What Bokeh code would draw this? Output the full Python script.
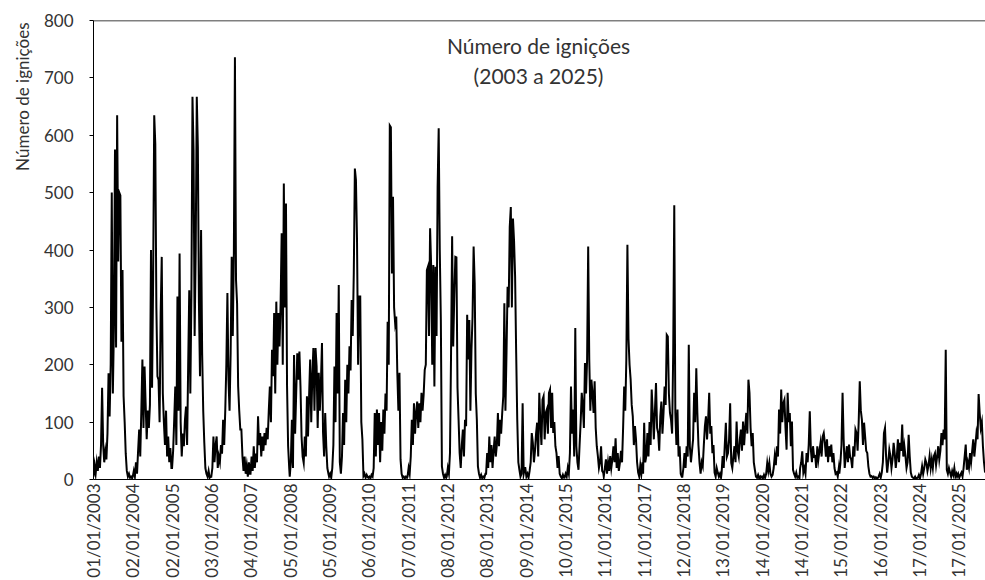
import math
from datetime import date

from bokeh.plotting import figure
from bokeh.models import Range1d, FixedTicker, Span, Title, Label
from bokeh.embed import file_html
from bokeh.resources import INLINE

# ---------------- data (one value every 10 days of each year) -------------
START = date(2003, 1, 1)
STEP_DAYS = 10
END = date(2025, 9, 22)

v2003 = [5, 25, 10, 30, 15, 40, 20, 60, 160, 60, 30, 50, 35, 80, 185, 110, 200, 500, 150, 265, 575, 230, 635, 380, 500, 495, 240, 365, 145, 100, 45, 15, 5, 10, 3, 5, 2]
v2004 = [5, 15, 5, 30, 10, 50, 87, 40, 120, 209, 90, 197, 133, 70, 120, 90, 130, 400, 160, 350, 635, 585, 300, 180, 174, 100, 290, 388, 150, 100, 60, 120, 40, 75, 30, 55, 20]
v2005 = [20, 50, 104, 162, 60, 319, 120, 394, 100, 40, 80, 58, 104, 127, 60, 200, 330, 150, 320, 667, 574, 250, 400, 667, 580, 307, 180, 435, 220, 120, 64, 20, 10, 5, 15, 3, 5]
v2006 = [5, 20, 75, 30, 60, 75, 20, 40, 30, 60, 45, 104, 60, 120, 200, 325, 174, 120, 220, 388, 250, 394, 736, 348, 307, 162, 120, 87, 87, 40, 15, 40, 10, 25, 5, 30, 10]
v2007 = [10, 40, 15, 58, 20, 45, 30, 110, 60, 81, 40, 75, 50, 81, 60, 90, 70, 120, 162, 100, 226, 180, 290, 150, 310, 200, 290, 232, 307, 429, 200, 516, 300, 481, 162, 58, 20]
v2008 = [5, 30, 104, 20, 217, 80, 150, 220, 174, 223, 162, 75, 40, 29, 75, 40, 145, 75, 145, 209, 100, 180, 229, 120, 229, 197, 90, 186, 120, 170, 238, 81, 40, 116, 58, 20, 10]
v2009 = [5, 10, 3, 20, 60, 197, 100, 290, 150, 339, 30, 10, 40, 116, 60, 174, 100, 200, 150, 232, 190, 313, 250, 360, 542, 522, 417, 200, 319, 319, 100, 70, 6, 10, 3, 8, 4]
v2010 = [3, 5, 2, 8, 5, 20, 116, 40, 122, 60, 116, 30, 100, 50, 122, 80, 150, 120, 275, 200, 617, 614, 359, 493, 300, 272, 284, 186, 120, 186, 35, 10, 3, 5, 2, 5, 3]
v2011 = [5, 20, 10, 40, 104, 60, 133, 80, 116, 136, 90, 133, 100, 151, 120, 148, 191, 200, 365, 371, 250, 438, 371, 200, 374, 162, 371, 250, 510, 612, 400, 278, 23, 10, 3, 8, 3]
v2012 = [5, 20, 10, 46, 220, 424, 232, 319, 388, 387, 160, 104, 46, 20, 60, 87, 40, 104, 93, 287, 209, 278, 120, 226, 284, 406, 342, 150, 104, 23, 10, 3, 8, 2, 5, 3, 10]
v2013 = [10, 46, 20, 75, 30, 60, 20, 50, 75, 40, 60, 116, 58, 104, 80, 116, 145, 307, 120, 220, 336, 300, 440, 475, 300, 455, 417, 354, 220, 104, 30, 17, 5, 10, 133, 10, 20]
v2014 = [20, 5, 10, 3, 15, 30, 81, 64, 30, 50, 80, 99, 40, 151, 100, 60, 139, 145, 70, 116, 122, 80, 151, 157, 90, 151, 81, 100, 58, 46, 20, 41, 10, 5, 2, 8, 3]
v2015 = [3, 10, 5, 20, 10, 46, 162, 80, 122, 40, 264, 58, 30, 17, 60, 100, 151, 128, 90, 203, 150, 209, 406, 209, 120, 174, 150, 116, 171, 90, 58, 41, 20, 30, 58, 15, 12]
v2016 = [5, 20, 35, 10, 30, 15, 41, 20, 35, 58, 30, 72, 20, 46, 15, 29, 50, 30, 90, 162, 120, 209, 409, 246, 200, 174, 130, 110, 60, 93, 70, 30, 12, 5, 25, 10, 30]
v2017 = [10, 99, 30, 41, 81, 40, 100, 60, 157, 116, 70, 120, 168, 90, 81, 50, 110, 136, 80, 116, 162, 130, 252, 249, 150, 116, 104, 80, 220, 478, 116, 60, 122, 40, 58, 10, 5]
v2018 = [5, 20, 46, 20, 58, 40, 235, 58, 30, 50, 70, 151, 100, 194, 116, 60, 29, 10, 30, 23, 60, 93, 110, 70, 104, 151, 80, 93, 46, 60, 12, 5, 20, 12, 5, 10, 3]
v2019 = [10, 41, 20, 60, 99, 40, 46, 70, 133, 29, 20, 40, 58, 30, 101, 50, 40, 70, 87, 50, 101, 60, 90, 116, 80, 174, 151, 90, 58, 81, 30, 17, 5, 3, 8, 2, 5]
v2020 = [3, 5, 2, 8, 3, 10, 29, 15, 29, 10, 5, 8, 20, 41, 25, 58, 40, 122, 80, 157, 100, 133, 139, 90, 52, 151, 100, 116, 58, 101, 17, 10, 5, 12, 3, 5, 2]
v2021 = [20, 30, 49, 12, 20, 10, 46, 30, 60, 119, 52, 30, 58, 40, 41, 20, 58, 35, 50, 64, 40, 75, 81, 64, 40, 70, 30, 58, 40, 61, 30, 46, 20, 10, 12, 5, 20]
v2022 = [10, 29, 60, 151, 70, 20, 40, 58, 30, 61, 40, 35, 20, 58, 40, 87, 81, 50, 100, 171, 120, 104, 60, 99, 75, 50, 46, 23, 10, 5, 6, 3, 5, 2, 4, 2, 3]
v2023 = [5, 10, 3, 12, 30, 81, 90, 40, 12, 30, 52, 41, 20, 35, 64, 46, 20, 40, 70, 30, 64, 50, 96, 40, 58, 41, 20, 30, 78, 40, 12, 5, 3, 2, 5, 1, 3]
v2024 = [3, 8, 2, 10, 23, 10, 20, 35, 29, 15, 25, 41, 20, 35, 20, 41, 46, 25, 40, 58, 35, 50, 81, 60, 87, 70, 226, 17, 10, 20, 12, 5, 15, 8, 20, 5, 10]
v2025 = [5, 10, 3, 8, 12, 5, 20, 40, 61, 17, 30, 20, 46, 30, 50, 70, 40, 60, 81, 70, 149, 116, 90, 100, 58, 30, 12]

years = list(range(2003, 2026))
series = [v2003, v2004, v2005, v2006, v2007, v2008, v2009, v2010, v2011, v2012, v2013, v2014,
          v2015, v2016, v2017, v2018, v2019, v2020, v2021, v2022, v2023, v2024, v2025]

tick_labels = ["01/01/2003", "02/01/2004", "02/01/2005", "03/01/2006", "04/01/2007", "05/01/2008",
               "05/01/2009", "06/01/2010", "07/01/2011", "08/01/2012", "08/01/2013", "09/01/2014",
               "10/01/2015", "11/01/2016", "11/01/2017", "12/01/2018", "13/01/2019", "14/01/2020",
               "14/01/2021", "15/01/2022", "16/01/2023", "17/01/2024", "17/01/2025"]
TICK_EVERY = 366  # days between axis labels
y_ticks = [0, 100, 200, 300, 400, 500, 600, 700, 800]

title_lines = "Número de ignições\n(2003 a 2025)"
y_title = "Número de ignições"

# ---------------- build series (x = days since 01/01/2003) ----------------
xs, ys = [], []
for yr, vals in zip(years, series):
    off = (date(yr, 1, 1) - START).days
    for k, v in enumerate(vals):
        xs.append(off + STEP_DAYS * k)
        ys.append(v)

end_day = (END - START).days
ticks = [i * TICK_EVERY for i in range(len(tick_labels))]

FONT = "Lato"
TXT = "#333333"

p = figure(width=985, height=580, output_backend="svg", toolbar_location=None,
           x_range=Range1d(0, end_day), y_range=Range1d(0, 800),
           min_border_left=93, min_border_right=0, min_border_top=20, min_border_bottom=100)
p.outline_line_color = None
p.grid.visible = False
p.background_fill_color = "white"

p.line(xs, ys, line_color="black", line_width=2.0, line_join="miter")

# x axis
xa = p.xaxis[0]
xa.ticker = FixedTicker(ticks=ticks)
xa.major_label_overrides = {t: lab for t, lab in zip(ticks, tick_labels)}
xa.major_label_orientation = math.pi / 2
xa.major_tick_out = 0
xa.major_tick_in = 0
xa.minor_tick_out = 0
xa.minor_tick_in = 0
xa.major_label_standoff = 4
xa.major_label_text_font = FONT
xa.major_label_text_font_size = "17px"
xa.major_label_text_color = TXT
xa.axis_line_color = "black"

# y axis
ya = p.yaxis[0]
ya.ticker = FixedTicker(ticks=y_ticks)
ya.major_tick_out = 4
ya.major_tick_in = 0
ya.minor_tick_out = 0
ya.minor_tick_in = 0
ya.major_label_standoff = 16
ya.major_label_text_font = FONT
ya.major_label_text_font_size = "17px"
ya.major_label_text_color = TXT
ya.axis_line_color = "black"
ya.major_tick_line_color = "black"

# top border of plot area
p.add_layout(Span(location=800, dimension="width", line_color="black", line_width=1.5))

# y title (placed at top of the left side)
p.add_layout(Title(text=y_title, align="right", text_font=FONT, text_font_size="17px",
                   text_font_style="normal", text_color=TXT, standoff=15, offset=2), "left")

# chart title inside plot
p.add_layout(Label(x=4141, y=730, text=title_lines, text_align="center", text_baseline="middle",
                   text_font=FONT, text_font_size="21px", text_color=TXT))

open("out.html", "w").write(file_html(p, INLINE))
